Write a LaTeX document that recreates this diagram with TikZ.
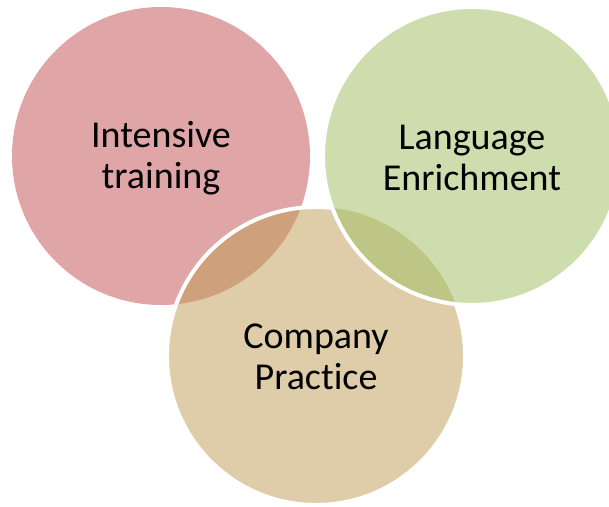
\documentclass[tikz,border=0pt]{standalone}
\usepackage{fontspec}
\setmainfont{Carlito}[Ligatures={NoCommon}]
\definecolor{redfill}{RGB}{224,166,167}
\definecolor{greenfill}{RGB}{206,221,173}
\definecolor{tanfill}{RGB}{222,205,168}
\definecolor{redtan}{RGB}{206,160,124}
\definecolor{greentan}{RGB}{190,198,133}
\begin{document}
\begin{tikzpicture}[x=0.5pt,y=0.5pt,line join=round,
		venntext/.style={align=center,font=\fontsize{19}{20.5}\selectfont,text=black,inner sep=0pt},
		rim/.style={draw=white,line width=2pt}]
	\useasboundingbox (0,0) rectangle (609,507);
	\coordinate (red) at (161,351);
	\coordinate (green) at (472,351);
	\coordinate (tan) at (316,151);
	\def\rr{149}
	% circles
	\fill[redfill] (red) circle(\rr);
	\fill[tanfill] (tan) circle(\rr);
	\begin{scope}
		\clip (tan) circle(\rr);
		\fill[redtan] (red) circle(\rr);
	\end{scope}
	\draw[rim] (tan) circle(\rr);
	\fill[greenfill] (green) circle(\rr);
	\begin{scope}
		\clip (green) circle(\rr);
		\fill[greentan] (tan) circle(\rr);
	\end{scope}
	\draw[rim] (green) circle(\rr);
	% texts
	\node[venntext] (intensive) at (161,349) {Intensive\\training};
	\node[venntext] (language) at (472,349) {Language\\Enrichment};
	\node[venntext] (company) at (316,150) {Company\\Practice};
\end{tikzpicture}
\end{document}
